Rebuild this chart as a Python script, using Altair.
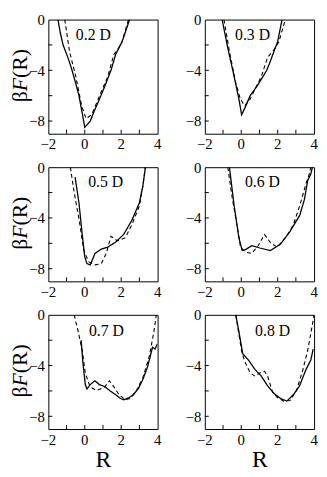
import altair as alt
import pandas as pd

FONT = "Liberation Serif"

labels = ["0.2 D", "0.3 D", "0.5 D", "0.6 D", "0.7 D", "0.8 D"]
label_x = [0.47, 0.62, 1.15, 1.16, 1.19, 1.72]
label_y = [-1.2, -1.2, -1.15, -1.15, -1.3, -1.3]

title_parts = ["β", "F", "(R)"]

# solid curves
s02_x = [-1.47, -1.35, -1.19, -0.95, -0.75, -0.5, -0.32, -0.15, 0.0, 0.3, 0.55, 0.74, 1.09, 1.44, 1.7, 2.05, 2.25, 2.46]
s02_y = [0, -1.0, -2.0, -2.9, -3.75, -5.0, -6.0, -7.3, -8.5, -8.0, -7.1, -6.5, -5.3, -4.0, -2.74, -1.74, -0.9, 0]
s03_x = [-1.05, -0.74, -0.39, -0.13, 0.02, 0.19, 0.49, 0.84, 1.19, 1.4, 1.54, 1.8, 2.0, 2.24]
s03_y = [0, -2.24, -4.5, -6.26, -7.5, -7.0, -6.0, -5.3, -4.5, -4.0, -3.5, -2.5, -1.74, 0]
s05_x = [-0.53, -0.32, -0.14, 0.0, 0.12, 0.3, 0.56, 0.91, 1.26, 1.7, 2.14, 2.58, 3.0, 3.19, 3.33]
s05_y = [-0.78, -2.8, -5.3, -7.07, -7.6, -7.7, -6.8, -6.45, -6.3, -5.9, -5.3, -4.2, -2.8, -1.5, 0]
s06_x = [-0.65, -0.39, -0.13, 0.05, 0.23, 0.58, 1.02, 1.6, 2.16, 2.68, 3.21, 3.47, 3.65, 3.82, 3.91]
s06_y = [0, -3.04, -5.56, -6.57, -6.5, -6.19, -6.37, -6.57, -6.06, -5.06, -3.8, -2.54, -1.03, -0.53, 0]
s07_x = [-0.2, -0.1, 0.03, 0.12, 0.3, 0.56, 0.8, 1.09, 1.4, 1.7, 1.96, 2.14, 2.4, 2.67, 2.95, 3.19, 3.45, 3.63, 3.72, 3.86, 3.98]
s07_y = [-2.0, -3.8, -5.5, -5.85, -5.5, -5.2, -5.5, -5.65, -6.0, -6.3, -6.6, -6.7, -6.55, -6.3, -5.8, -5.1, -4.1, -3.07, -2.56, -2.7, -2.3]
s08_x = [-0.3, -0.13, 0.02, 0.08, 0.4, 0.75, 1.1, 1.45, 1.8, 2.16, 2.5, 2.86, 3.2, 3.56, 3.82, 3.95]
s08_y = [0, -1.3, -2.57, -3.07, -3.57, -4.3, -4.83, -5.6, -6.2, -6.6, -6.8, -6.3, -5.6, -4.3, -3.57, -2.7]

# dashed curves
d02_x = [-1.1, -0.84, -0.49, -0.17, 0.07, 0.38, 0.74, 1.26, 1.6, 1.8, 2.05, 2.4]
d02_y = [0, -2.5, -4.5, -6.8, -7.8, -7.5, -6.26, -4.5, -2.74, -2.4, -1.74, 0]
d03_x = [-0.95, -0.65, -0.3, -0.05, 0.19, 0.49, 0.75, 1.1, 1.44, 1.8, 2.07, 2.42]
d03_y = [0, -2.5, -5.0, -6.26, -6.8, -6.26, -5.5, -4.5, -3.0, -2.36, -1.74, 0]
d05_x = [-0.79, -0.58, -0.32, -0.05, 0.21, 0.56, 0.91, 1.18, 1.44, 1.79, 2.23, 2.58, 3.0, 3.19, 3.33]
d05_y = [0, -2.0, -4.05, -6.57, -7.45, -7.7, -7.6, -6.8, -5.45, -5.8, -5.56, -4.55, -3.05, -1.5, 0]
d06_x = [-0.74, -0.51, -0.21, -0.04, 0.23, 0.58, 0.93, 1.28, 1.63, 1.98, 2.5, 2.86, 3.21, 3.56, 3.74, 3.82]
d06_y = [0, -2.29, -4.8, -6.3, -6.7, -6.8, -6.19, -5.3, -6.0, -6.3, -5.43, -4.55, -3.04, -1.28, -0.53, 0]
d07_x = [-0.58, -0.35, -0.14, 0.03, 0.3, 0.65, 1.09, 1.35, 1.61, 1.88, 2.23, 2.49, 2.84, 3.19, 3.54, 3.8, 3.93]
d07_y = [0, -1.4, -2.8, -4.6, -5.7, -5.96, -5.7, -5.2, -5.7, -6.3, -6.7, -6.6, -5.96, -4.96, -3.3, -1.3, 0]
d08_x = [-0.3, -0.13, 0.05, 0.23, 0.49, 0.75, 1.02, 1.28, 1.45, 1.72, 1.98, 2.33, 2.68, 3.04, 3.39, 3.65, 3.88, 4.0]
d08_y = [0, -1.56, -3.07, -3.8, -4.58, -4.83, -4.58, -4.45, -4.83, -6.1, -6.5, -6.8, -6.75, -5.96, -4.3, -2.8, -1.0, 0]

solid = [(s02_x, s02_y), (s03_x, s03_y), (s05_x, s05_y), (s06_x, s06_y), (s07_x, s07_y), (s08_x, s08_y)]
dashed = [(d02_x, d02_y), (d03_x, d03_y), (d05_x, d05_y), (d06_x, d06_y), (d07_x, d07_y), (d08_x, d08_y)]

x_ticks = [-1, 0, 1, 2, 3]
y_ticks = [-2, -4, -6, -8]
x_labels = [-2, 0, 2, 4]
y_labels = [0, -4, -8]

W, H = 111, 116
TITLE_SIZE = 22


def panel(i, left, bottom):
    xs = alt.X("R:Q", scale=alt.Scale(domain=[-2, 4], nice=False, zero=False),
               axis=alt.Axis(values=x_labels, labels=False, title="R" if bottom else None,
                             titleFontSize=24, titlePadding=19))
    ys = alt.Y("F:Q", scale=alt.Scale(domain=[-9, 0], nice=False, zero=False),
               axis=alt.Axis(values=y_labels, title=None, labelOverlap=False,
                             labelFlush=False))
    sx, sy = solid[i]
    dx, dy = dashed[i]
    sdf = pd.DataFrame({"R": sx, "F": sy, "o": list(range(len(sx)))})
    ddf = pd.DataFrame({"R": dx, "F": dy, "o": list(range(len(dx)))})
    s_line = alt.Chart(sdf).mark_line(color="black", strokeWidth=1.3, clip=True).encode(
        x=xs, y=ys, order="o:Q")
    d_line = alt.Chart(ddf).mark_line(color="black", strokeWidth=1.1, strokeDash=[4, 3], clip=True).encode(
        x=alt.X("R:Q"), y=alt.Y("F:Q"), order="o:Q")
    xt = alt.Chart(pd.DataFrame({"R": x_ticks})).mark_rule(color="black", strokeWidth=1).encode(
        x="R:Q", y=alt.value(H), y2=alt.value(H - 4))
    yt = alt.Chart(pd.DataFrame({"F": y_ticks})).mark_rule(color="black", strokeWidth=1).encode(
        y="F:Q", x=alt.value(0), x2=alt.value(4))
    xl = alt.Chart(pd.DataFrame({"R": x_labels})).mark_text(
        font=FONT, fontSize=15, align="center", baseline="top", color="black").encode(
        x="R:Q", y=alt.value(H + 4), text=alt.Text("R:Q", format="d"))
    lab = alt.Chart(pd.DataFrame({"R": [label_x[i]], "F": [label_y[i]], "t": [labels[i]]})).mark_text(
        font=FONT, fontSize=16, align="center", baseline="middle", color="black").encode(
        x="R:Q", y="F:Q", text="t:N")
    layers = [s_line, d_line, xt, yt, xl, lab]
    if left:
        one = pd.DataFrame({"k": [0]})
        c = H / 2 + 8
        fw = 6.7
        bx = -22
        t1 = alt.Chart(one).mark_text(text=title_parts[0], font=FONT, fontSize=TITLE_SIZE, angle=270,
                                      align="right", baseline="alphabetic", color="black").encode(
            x=alt.value(bx), y=alt.value(c + fw))
        t2 = alt.Chart(one).mark_text(text=title_parts[1], font=FONT, fontSize=TITLE_SIZE, angle=270,
                                      fontStyle="italic", align="center", baseline="alphabetic",
                                      color="black").encode(
            x=alt.value(bx), y=alt.value(c))
        t3 = alt.Chart(one).mark_text(text=title_parts[2], font=FONT, fontSize=TITLE_SIZE, angle=270,
                                      align="left", baseline="alphabetic", color="black").encode(
            x=alt.value(bx), y=alt.value(c - fw))
        layers += [t1, t2, t3]
    return alt.layer(*layers).properties(width=W, height=H)


rows = []
for r in range(3):
    rows.append(alt.hconcat(panel(2 * r, True, r == 2), panel(2 * r + 1, False, r == 2), spacing=22))

chart = alt.vconcat(*rows, spacing=6).properties(padding=0).configure_view(
    stroke="black", strokeWidth=1
).configure_axis(
    domain=False, ticks=False, grid=False,
    labelFont=FONT, labelFontSize=15, labelColor="black", labelPadding=4,
    titleFont=FONT, titleFontWeight="normal", titleColor="black",
).configure_concat(spacing=6)

chart.save("out.html", embed_options={"renderer": "svg", "actions": False})
